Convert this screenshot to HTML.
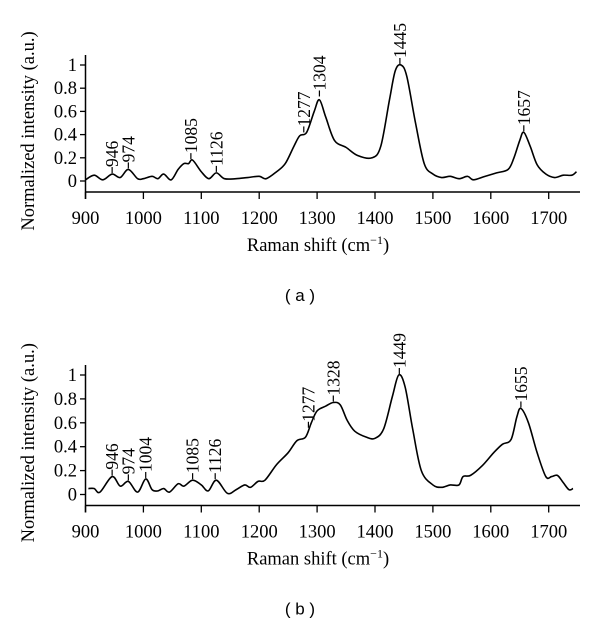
<!DOCTYPE html>
<html><head><meta charset="utf-8"><style>
body{margin:0;background:#fff;width:600px;height:626px;overflow:hidden}
svg{font-family:"Liberation Serif",serif}
</style></head><body>
<svg id="svg" width="600" height="626"></svg>
<script>
const aX=[900,915,930,946,960,974,990,1000,1015,1025,1035,1048,1060,1070,1078,1085,1100,1113,1126,1140,1160,1180,1200,1212,1230,1245,1260,1270,1282,1295,1304,1315,1330,1350,1370,1395,1410,1425,1435,1445,1455,1470,1485,1500,1515,1530,1545,1560,1570,1590,1610,1630,1640,1650,1657,1668,1680,1695,1710,1725,1740,1748];
const aY=[0.01,0.05,0.01,0.06,0.03,0.1,0.02,0.02,0.04,0.02,0.06,0.01,0.1,0.15,0.15,0.18,0.08,0.02,0.07,0.02,0.02,0.03,0.04,0.02,0.08,0.15,0.3,0.39,0.42,0.6,0.7,0.55,0.35,0.29,0.22,0.2,0.3,0.7,0.95,1.0,0.9,0.5,0.15,0.06,0.03,0.04,0.02,0.04,0.01,0.04,0.07,0.1,0.2,0.35,0.42,0.3,0.14,0.06,0.03,0.05,0.05,0.08];
const bX=[905,915,925,946,960,974,990,1004,1015,1025,1035,1045,1060,1070,1085,1100,1112,1126,1145,1160,1175,1185,1198,1210,1230,1250,1265,1280,1290,1300,1315,1328,1340,1352,1365,1385,1400,1415,1430,1441,1452,1465,1480,1500,1515,1530,1545,1552,1565,1585,1605,1620,1635,1645,1652,1665,1680,1695,1705,1715,1725,1735,1742];
const bY=[0.05,0.05,0.02,0.15,0.07,0.11,0.02,0.13,0.04,0.03,0.05,0.02,0.09,0.07,0.12,0.08,0.03,0.12,0.01,0.04,0.08,0.06,0.11,0.12,0.25,0.35,0.45,0.48,0.6,0.7,0.74,0.77,0.75,0.62,0.53,0.48,0.47,0.55,0.82,1.0,0.9,0.55,0.2,0.08,0.06,0.08,0.08,0.15,0.16,0.24,0.35,0.42,0.46,0.65,0.72,0.6,0.35,0.15,0.15,0.16,0.1,0.04,0.05];
const aPeaks=["946","974","1085","1126","1277","1304","1445","1657"];
const aPeakX=[946,974,1082,1126,1277,1304,1443,1657];
const aPeakY=[0.06,0.1,0.18,0.07,0.41,0.72,1.0,0.42];
const bPeaks=["946","974","1004","1085","1126","1277","1328","1449","1655"];
const bPeakX=[946,974,1004,1085,1124,1285,1328,1442,1652];
const bPeakY=[0.15,0.11,0.13,0.12,0.12,0.55,0.77,1.0,0.72];
const xTicks=[900,1000,1100,1200,1300,1400,1500,1600,1700];
const yTicks=[0,0.2,0.4,0.6,0.8,1];
const yTickLabels=["0","0.2","0.4","0.6","0.8","1"];
const NS="http://www.w3.org/2000/svg";
const svg=document.getElementById('svg');
function mk(t,a,p){const e=document.createElementNS(NS,t);for(const k in a)e.setAttribute(k,a[k]);(p||svg).appendChild(e);return e;}
function panel(name,top,y0,y1,xs,ys,pk,pkx,pky,cap){
  const g=mk('g',{});
  
  
  const sx=v=>85.5+(v-900)*0.579;
  const sy=v=>y0+(y1-y0)*v;
  const axY=y0+11;
  let a=mk('line',{x1:85.5,x2:580,y1:axY,y2:axY,stroke:'#000','stroke-width':1.5},g);
  
  a=mk('line',{x1:85.5,x2:85.5,y1:y1-10,y2:axY+7,stroke:'#000','stroke-width':1.5},g);
  
  xTicks.forEach(v=>{
    mk('line',{x1:sx(v),x2:sx(v),y1:axY,y2:axY+7,stroke:'#000','stroke-width':1.3},g);
    const t=mk('text',{x:sx(v),y:axY+32,'font-size':18.5,'text-anchor':'middle'},g);
    t.textContent=v;
    
    
  });
  yTicks.forEach((v,i)=>{
    mk('line',{x1:80,x2:85.5,y1:sy(v),y2:sy(v),stroke:'#000','stroke-width':1.3},g);
    const t=mk('text',{x:77,y:sy(v)+6,'font-size':18.5,'text-anchor':'end'},g);
    t.textContent=yTickLabels[i];
    
    
  });
  const yl=mk('text',{x:0,y:0,'font-size':18.5,'text-anchor':'middle',transform:`translate(34,${(y0+y1)/2+8}) rotate(-90)`},g);
  yl.textContent='Normalized intensity (a.u.)';
  
  
  const xl=mk('text',{x:318,y:axY+59,'font-size':18.5,'text-anchor':'middle'},g);
  xl.innerHTML='Raman shift (cm<tspan font-size="12" dy="-7">−1</tspan><tspan dy="7">)</tspan>';
  
  
  const P=xs.map((v,i)=>[sx(v),sy(ys[i])]);
  let d='M'+P[0][0]+','+P[0][1];
  for(let i=0;i<P.length-1;i++){const p0=P[Math.max(0,i-1)],p1=P[i],p2=P[i+1],p3=P[Math.min(P.length-1,i+2)];
    d+=` C${p1[0]+(p2[0]-p0[0])/6},${p1[1]+(p2[1]-p0[1])/6} ${p2[0]-(p3[0]-p1[0])/6},${p2[1]-(p3[1]-p1[1])/6} ${p2[0]},${p2[1]}`;}
  const path=mk('path',{d:d,fill:'none',stroke:'#000','stroke-width':1.6},g);
  
  
  pk.forEach((lab,i)=>{
    const x=sx(pkx[i]),y=sy(pky[i]);
    mk('line',{x1:x,x2:x,y1:y-1,y2:y-7,stroke:'#000','stroke-width':1.2},g);
    const t=mk('text',{x:0,y:0,'font-size':17.5,transform:`translate(${x+6},${y-7}) rotate(-90)`},g);
    t.textContent=lab;
    
    
  });
  const c=mk('text',{x:300,y:axY+109,'font-size':17,'text-anchor':'middle','font-family':'Liberation Sans, sans-serif'},g);
  c.textContent=cap;
  
  
}
panel('panel-a',181,181,65,aX,aY,aPeaks,aPeakX,aPeakY,'( a )');
panel('panel-b',494.5,494.5,375,bX,bY,bPeaks,bPeakX,bPeakY,'( b )');
</script>
</body></html>
